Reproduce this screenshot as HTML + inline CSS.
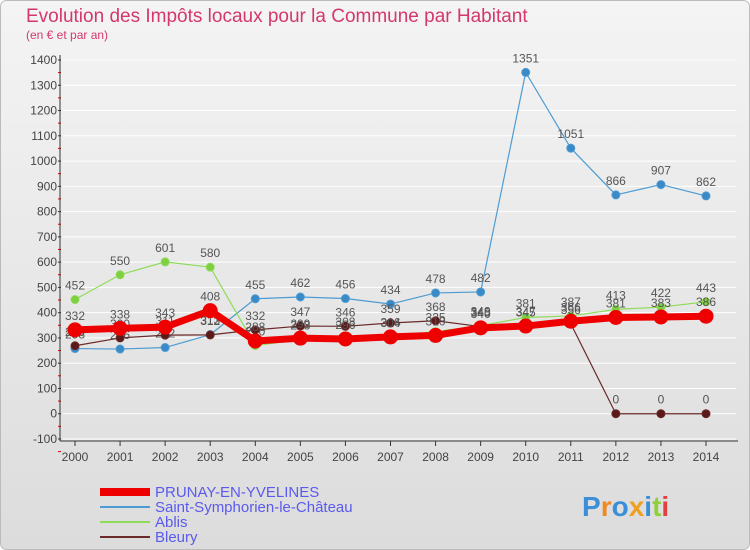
<!DOCTYPE html>
<html><head><meta charset="utf-8"><style>
body{margin:0;background:#fff}
svg{display:block;font-family:"Liberation Sans",sans-serif}
</style></head><body>
<svg id="c" width="750" height="550">
<defs><linearGradient id="bg" x1="0" y1="0" x2="0" y2="1"><stop offset="0" stop-color="#f4f4f4"/><stop offset="1" stop-color="#dcdcdc"/></linearGradient></defs>
<rect x="0.5" y="0.5" width="749" height="549" rx="6" fill="url(#bg)" stroke="#bbb"/>
<text x="26" y="22" font-size="19" fill="#d4386b">Evolution des Impôts locaux pour la Commune par Habitant</text>
<text x="26" y="39" font-size="12" fill="#d4386b">(en € et par an)</text>
<g id="grid"></g><g id="axes"></g><g id="series"></g><g id="legend"></g>
<text x="582" y="516" font-size="28" font-weight="bold" fill="#3a8fd8"><tspan fill="#3a8fd8">P</tspan><tspan fill="#f08a20">r</tspan><tspan fill="#3a8fd8">o</tspan><tspan fill="#f0a020">x</tspan><tspan fill="#3a8fd8">i</tspan><tspan fill="#8fcf3a">t</tspan><tspan fill="#e04040">i</tspan></text>
</svg>
<script>
const years=[2000,2001,2002,2003,2004,2005,2006,2007,2008,2009,2010,2011,2012,2013,2014];
const yTicks=[-100,0,100,200,300,400,500,600,700,800,900,1000,1100,1200,1300,1400];
const prunay=[332,338,343,408,288,299,296,304,310,340,347,366,381,383,386];
const saintSym=[258,256,262,313,455,462,456,434,478,482,1351,1051,866,907,862];
const ablis=[452,550,601,580,270,293,308,306,325,349,381,387,413,422,443];
const bleury=[269,300,311,312,332,347,346,359,368,345,345,356,0,0,0];
const NS="http://www.w3.org/2000/svg";
const X0=75,X1=706,Ymin=-100,Ymax=1400,PY0=439,PY1=60;
const xs=i=>X0+(X1-X0)*i/(years.length-1);
const ys=v=>PY0-(v-Ymin)*(PY0-PY1)/(Ymax-Ymin);
function mk(p,t,a){const e=document.createElementNS(NS,t);for(const k in a)e.setAttribute(k,a[k]);p.appendChild(e);return e;}
const grid=document.getElementById('grid'),axes=document.getElementById('axes'),ser=document.getElementById('series'),leg=document.getElementById('legend');
yTicks.forEach(v=>{const y=ys(v);
const l=mk(grid,'line',{x1:X0-12,x2:X1+30,y1:y,y2:y,stroke:'#fff','stroke-width':1});


const t=mk(axes,'text',{x:X0-18,y:y+4,'font-size':12,'text-anchor':'end',fill:'#444'});t.textContent=v;


mk(axes,'line',{x1:X0-17,x2:X0-14,y1:y,y2:y,stroke:'#333'});
mk(axes,'line',{x1:X0-17,x2:X0-14,y1:y+12.6,y2:y+12.6,stroke:'#d00'});
});
mk(axes,'line',{x1:X0-15,x2:X0-15,y1:55,y2:441,stroke:'#333'});
mk(axes,'line',{x1:X0-15,x2:X1+32,y1:441,y2:441,stroke:'#333'});
years.forEach((yr,i)=>{const x=xs(i);
mk(axes,'line',{x1:x,x2:x,y1:441,y2:446,stroke:'#333'});
const t=mk(axes,'text',{x:x,y:461,'font-size':12,'text-anchor':'middle',fill:'#444'});t.textContent=yr;


});
function series(data,color,w,r,dot,name){
const g=mk(ser,'g',{});


mk(g,'polyline',{points:data.map((v,i)=>xs(i)+','+ys(v)).join(' '),fill:'none',stroke:color,'stroke-width':w,'stroke-linejoin':'round'});
data.forEach((v,i)=>{const c=mk(g,'circle',{cx:xs(i),cy:ys(v),r:r,fill:dot,stroke:color,'stroke-width':1});


const t=mk(g,'text',{x:xs(i),y:ys(v)-10,'font-size':12,'text-anchor':'middle',fill:'#555'});t.textContent=v;

});
}
series(saintSym,'#4d9bd3',1.2,4,'#3a8ac8','saint-symphorien-series');
series(ablis,'#8fdc5a',1.2,4,'#7fd040','ablis-series');
series(bleury,'#6b2a2a',1.2,4,'#5a1a1a','bleury-series');
series(prunay,'#ee0000',7,7,'#ee0000','prunay-series');
const items=[['PRUNAY-EN-YVELINES','#ee0000',8],['Saint-Symphorien-le-Château','#4d9bd3',2],['Ablis','#8fdc5a',2],['Bleury','#6b2a2a',2]];
items.forEach((it,k)=>{const y=492+k*15;
const g=mk(leg,'g',{});


mk(g,'line',{x1:100,x2:150,y1:y,y2:y,stroke:it[1],'stroke-width':it[2]});
const t=mk(g,'text',{x:155,y:y+5,'font-size':15,fill:'#5a5aee'});t.textContent=it[0];});
</script>
</body></html>
